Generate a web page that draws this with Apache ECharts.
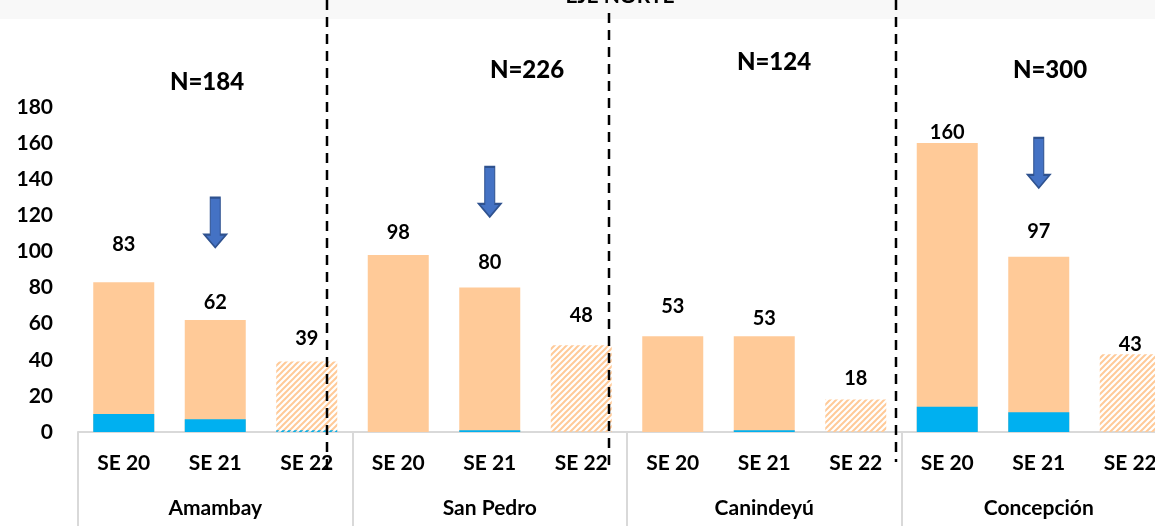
<!DOCTYPE html>
<html lang="es">
<head>
    <meta charset="UTF-8">
    <title>Eje Norte</title>
    <style>
        html,body{margin:0;padding:0;overflow:hidden;background:#fff;}
        #mychart{width:1176px;height:526px;}
    </style>
</head>
<body>
    <div id="mychart"></div>
    <script src="https://cdn.jsdelivr.net/npm/echarts@6/dist/echarts.min.js"></script>
    <script>
        var groups=['Amambay','San Pedro','Canindeyú','Concepción']
        var weeks=['SE 20','SE 21','SE 22','SE 20','SE 21','SE 22','SE 20','SE 21','SE 22','SE 20','SE 21','SE 22']
        var totals=[83,62,39,98,80,48,53,53,18,160,97,43]
        var blues=[10,7,1,0,1,0,0,1,0,14,11,0]
        var groupN=['N=184','N=226','N=124','N=300']
        var arrowPoints=[[1,116],[4,133],[10,149]]//flechas sobre SE 21
        var labelLift=[23,3,8,8,10,15,15,3,6,-4,10,-5]//ajuste manual de etiquetas

        var orange='#FFCA98'
        var blue='#00B0F0'
        var font='Lato'

        function hatch(color){//patron rayado para SE 22
            let c=document.createElement('canvas')
            c.width=6;c.height=6
            let g=c.getContext('2d')
            g.strokeStyle=color
            g.lineWidth=2
            g.beginPath()
            g.moveTo(0,6);g.lineTo(6,0)
            g.moveTo(-3,3);g.lineTo(3,-3)
            g.moveTo(3,9);g.lineTo(9,3)
            g.stroke()
            return {image:c,repeat:'repeat'}
        }

        var myChart=echarts.init(document.getElementById('mychart'))

        let orangeData=totals.map((v,i)=>({
            value:v,
            itemStyle:{color:i%3==2?hatch(orange):orange},
            label:{offset:[0,-labelLift[i]]}
        }))
        let blueData=blues.map((v,i)=>({
            value:v,
            itemStyle:{color:i%3==2?hatch(blue):blue}
        }))

        //lineas punteadas y textos
        let graphics=[
            {type:'rect',shape:{x:0,y:0,width:1176,height:19},style:{fill:'#f8f8f8'},z:0},
            {type:'text',x:620,y:-4,style:{text:'EJE NORTE',font:'bold 21px '+font,fill:'#000',textAlign:'center',textVerticalAlign:'middle'},z:5}
        ]
        let dashes=[[327,0,470],[609,13,470],[896,0,462]]
        dashes.forEach(d=>{
            graphics.push({type:'line',shape:{x1:d[0],y1:d[1],x2:d[0],y2:d[2]},style:{stroke:'#000',lineWidth:2.5,lineDash:[10,7]},z:10})
        })
        let nPos=[[207,82],[527,70],[774,62],[1050,70]]
        groupN.forEach((t,i)=>{
            graphics.push({type:'text',x:nPos[i][0],y:nPos[i][1],style:{text:t,font:'900 24px '+font,fill:'#000',textAlign:'center',textVerticalAlign:'middle'},z:5})
        })

        let option={
            animation:false,
            grid:{left:78,right:0,top:107,bottom:94},
            xAxis:[
                {
                    type:'category',
                    data:weeks,
                    axisLine:{lineStyle:{color:'#d9d9d9',width:2}},
                    axisTick:{
                        show:true,
                        length:94,
                        interval:(i)=>i%3==0,
                        lineStyle:{color:'#d9d9d9',width:2}
                    },
                    axisLabel:{color:'#000',fontFamily:font,fontWeight:'bold',fontSize:21,margin:21,interval:0}
                },
                {
                    type:'category',
                    data:groups,
                    position:'bottom',
                    axisLine:{show:false},
                    axisTick:{show:false},
                    axisLabel:{color:'#000',fontFamily:font,fontWeight:'bold',fontSize:21,margin:66,interval:0}
                }
            ],
            yAxis:{
                type:'value',
                min:0,max:180,interval:20,
                splitLine:{show:false},
                axisLine:{show:false},
                axisLabel:{color:'#000',fontFamily:font,fontWeight:'bold',fontSize:21,margin:25}
            },
            series:[
                {
                    type:'bar',
                    data:orangeData,
                    barWidth:61,
                    barGap:'-100%',
                    label:{show:true,position:'top',color:'#000',fontFamily:font,fontWeight:'bold',fontSize:20}
                },
                {
                    type:'bar',
                    data:blueData,
                    barWidth:61
                },
                {
                    type:'scatter',
                    data:arrowPoints,
                    symbol:'path://M6,0 L16,0 L16,37 L22,37 L11,50 L0,37 L6,37 Z',
                    symbolSize:[22,50],
                    itemStyle:{color:'#4472C4',borderColor:'#2F528F',borderWidth:1.5,opacity:1},
                    z:5
                }
            ],
            graphic:graphics
        }
        myChart.setOption(option)
    </script>
</body>
</html>
